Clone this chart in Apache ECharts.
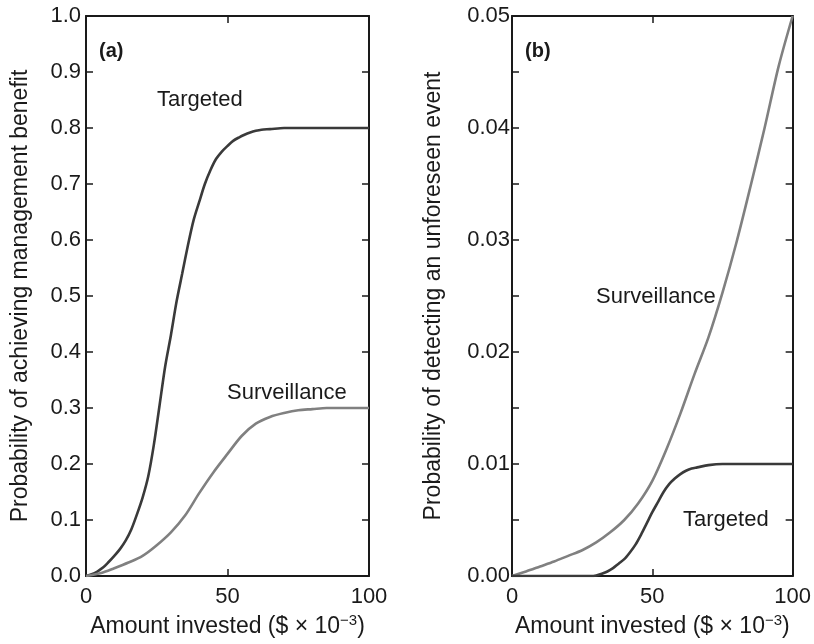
<!DOCTYPE html>
<html>
<head>
<meta charset="utf-8">
<script src="https://cdn.jsdelivr.net/npm/echarts@6/dist/echarts.min.js"></script>
<style>html,body{margin:0;padding:0;background:#fff}#c{width:814px;height:644px}</style>
</head>
<body>
<div id="c"></div>
<script>
// Panel (a): probability of achieving management benefit
var aTargetedX = [0,2,4,6,8,10,12,14,16,18,20,22,24,26,28,30,32,34,36,38,40,42,44,46,48,50,52,54,56,58,60,62,65,70,75,80,90,100];
var aTargetedY = [0,0.003,0.008,0.015,0.025,0.036,0.048,0.063,0.083,0.11,0.14,0.178,0.235,0.305,0.375,0.43,0.49,0.54,0.59,0.635,0.668,0.70,0.725,0.745,0.758,0.768,0.777,0.783,0.788,0.792,0.795,0.797,0.798,0.8,0.8,0.8,0.8,0.8];
var aSurvX = [0,5,10,15,20,25,30,35,40,45,50,55,60,65,70,75,80,85,90,100];
var aSurvY = [0,0.005,0.014,0.024,0.036,0.055,0.078,0.108,0.148,0.185,0.218,0.25,0.272,0.284,0.291,0.296,0.298,0.3,0.3,0.3];
// Panel (b): probability of detecting an unforeseen event
var bSurvX = [0,5,10,15,20,25,30,35,40,45,50,55,60,65,70,75,80,85,90,95,100];
var bSurvY = [0,0.0004,0.00085,0.0013,0.0018,0.0023,0.003,0.0039,0.005,0.0065,0.0085,0.0113,0.0145,0.018,0.0213,0.0253,0.0298,0.0348,0.04,0.0455,0.05];
var bTargetedX = [0,5,10,15,20,25,28,30,32,34,36,38,40,42,44,46,48,50,52,54,56,58,60,62,64,66,70,75,80,90,100];
var bTargetedY = [0,0,0,0,0,0,0,0.00005,0.0002,0.0004,0.0007,0.0011,0.0015,0.0021,0.0028,0.0037,0.0047,0.0057,0.0066,0.0075,0.0082,0.0087,0.0091,0.0094,0.0096,0.0097,0.0099,0.01,0.01,0.01,0.01];
var xTicks = [0, 50, 100];

function pairs(xs, ys){ return xs.map(function(x,i){ return [x, ys[i]]; }); }

var FONT = "'Liberation Sans', Arial, Helvetica, sans-serif";
var INK = '#1a1a1a';
var DARK = '#3a3a3a';
var LIGHT = '#808080';
var FS = 22;
var TS = 23;

function xAx(grid, pos, showLabel, name){
  return {
    type:'value', gridIndex:grid, position:pos, min:xTicks[0], max:xTicks[xTicks.length-1], interval:50,
    axisLine:{show:true, onZero:false, lineStyle:{color:INK, width:2}},
    axisTick:{show:true, inside:true, length:7, lineStyle:{color:INK, width:1.5}},
    axisLabel:{show:showLabel, margin:10, color:INK, fontSize:FS, fontFamily:FONT},
    splitLine:{show:false},
    name: name || '', nameLocation:'middle', nameGap:37,
    nameTextStyle:{color:INK, fontSize:TS, fontFamily:FONT,
      rich:{n:{fontSize:TS, fontFamily:FONT, color:INK, lineHeight:27},
            sup:{fontSize:15, fontFamily:FONT, color:INK, verticalAlign:'top', lineHeight:27, padding:[0,0,10,0]}}}
  };
}
function yAx(grid, pos, showLabel, max, interval, dec, minor, name, gap, margin){
  return {
    type:'value', gridIndex:grid, position:pos, min:0, max:max, interval:interval,
    axisLine:{show:true, onZero:false, lineStyle:{color:INK, width:2}},
    axisTick:{show:true, inside:true, length:7, lineStyle:{color:INK, width:1.5}},
    minorTick:{show:minor, splitNumber:2, length:7, lineStyle:{color:INK, width:1.5}},
    axisLabel:{show:showLabel, margin:margin, color:INK, fontSize:FS, fontFamily:FONT,
      formatter:function(v){ return v.toFixed(dec); }},
    splitLine:{show:false}, minorSplitLine:{show:false},
    name: name || '', nameLocation:'middle', nameGap:gap||0, nameRotate:90,
    nameTextStyle:{color:INK, fontSize:TS, fontFamily:FONT}
  };
}
var xName = '{n|Amount invested ($ × 10}{sup|−3}{n|)}';

var option = {
  animation:false,
  backgroundColor:'#fff',
  grid:[
    {left:86, top:16, width:283, height:560},
    {left:512, top:16, width:284, height:560}
  ],
  xAxis:[
    xAx(0,'bottom',true,xName), xAx(0,'top',false),
    xAx(1,'bottom',true,xName), xAx(1,'top',false)
  ],
  yAxis:[
    yAx(0,'left',true,1.0,0.1,1,false,'Probability of achieving management benefit',54,5),
    yAx(0,'right',false,1.0,0.1,1,false),
    yAx(1,'left',true,0.05,0.01,2,true,'Probability of detecting an unforeseen event',67,2),
    yAx(1,'right',false,0.05,0.01,2,true)
  ],
  graphic:[
    {type:'text', left:99, top:41, style:{text:'(a)', fill:INK, font:'bold 20px '+FONT}},
    {type:'text', left:157, top:89, style:{text:'Targeted', fill:INK, font:FS+'px '+FONT}},
    {type:'text', left:227, top:382, style:{text:'Surveillance', fill:INK, font:FS+'px '+FONT}},
    {type:'text', left:525, top:41, style:{text:'(b)', fill:INK, font:'bold 20px '+FONT}},
    {type:'text', left:596, top:286, style:{text:'Surveillance', fill:INK, font:FS+'px '+FONT}},
    {type:'text', left:683, top:509, style:{text:'Targeted', fill:INK, font:FS+'px '+FONT}}
  ],
  series:[
    {type:'line', name:'Targeted', xAxisIndex:0, yAxisIndex:0, data:pairs(aTargetedX,aTargetedY), showSymbol:false, smooth:0.3, lineStyle:{color:DARK, width:2.6}},
    {type:'line', name:'Surveillance', xAxisIndex:0, yAxisIndex:0, data:pairs(aSurvX,aSurvY), showSymbol:false, smooth:0.3, lineStyle:{color:LIGHT, width:2.6}},
    {type:'line', name:'Surveillance', xAxisIndex:2, yAxisIndex:2, data:pairs(bSurvX,bSurvY), showSymbol:false, smooth:0.3, lineStyle:{color:LIGHT, width:2.6}},
    {type:'line', name:'Targeted', xAxisIndex:2, yAxisIndex:2, data:pairs(bTargetedX,bTargetedY), showSymbol:false, smooth:0.3, lineStyle:{color:DARK, width:2.6}}
  ]
};
var chart = echarts.init(document.getElementById('c'), null, {renderer:'canvas'});
chart.setOption(option);
</script>
</body>
</html>
